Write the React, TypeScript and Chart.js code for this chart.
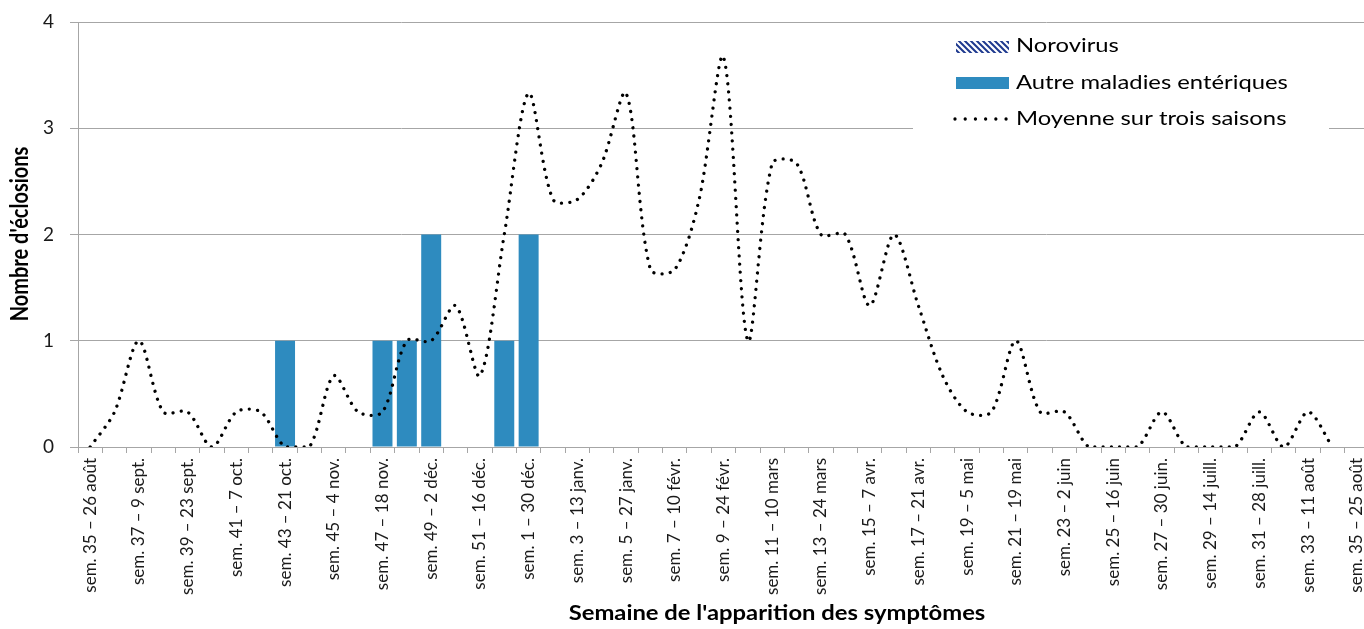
import React, { useEffect, useRef } from 'react';
import { Chart, registerables } from 'chart.js';

Chart.register(...registerables);

const weeks = [
  35, 36, 37, 38, 39, 40, 41, 42, 43, 44, 45, 46, 47, 48, 49, 50, 51, 52,
  1, 2, 3, 4, 5, 6, 7, 8, 9, 10, 11, 12, 13, 14, 15, 16, 17, 18, 19, 20,
  21, 22, 23, 24, 25, 26, 27, 28, 29, 30, 31, 32, 33, 34, 35,
];

const tickLabels = [
  'sem. 35 – 26 août', 'sem. 37 – 9 sept.', 'sem. 39 – 23 sept.', 'sem. 41 – 7 oct.',
  'sem. 43 – 21 oct.', 'sem. 45 – 4 nov.', 'sem. 47 – 18 nov.', 'sem. 49 – 2 déc.',
  'sem. 51 – 16 déc.', 'sem. 1 – 30 déc.', 'sem. 3 – 13 janv.', 'sem. 5 – 27 janv.',
  'sem. 7 – 10 févr.', 'sem. 9 – 24 févr.', 'sem. 11 – 10 mars', 'sem. 13 – 24 mars',
  'sem. 15 – 7 avr.', 'sem. 17 – 21 avr.', 'sem. 19 – 5 mai', 'sem. 21 – 19 mai',
  'sem. 23 – 2 juin', 'sem. 25 – 16 juin', 'sem. 27 – 30 juin.', 'sem. 29 – 14 juill.',
  'sem. 31 – 28 juill.', 'sem. 33 – 11 août', 'sem. 35 – 25 août',
];

const norovirus = [
  0, 0, 0, 0, 0, 0, 0, 0, 0, 0, 0, 0, 0, 0, 0, 0, 0, 0,
  0, 0, 0, 0, 0, 0, 0, 0, 0, 0, 0, 0, 0, 0, 0, 0, 0, 0, 0, 0,
  0, 0, 0, 0, 0, 0, 0, 0, 0, 0, 0, 0, 0, 0, 0,
];

const autresMaladies = [
  0, 0, 0, 0, 0, 0, 0, 0, 1, 0, 0, 0, 1, 1, 2, 0, 0, 1,
  2, 0, 0, 0, 0, 0, 0, 0, 0, 0, 0, 0, 0, 0, 0, 0, 0, 0, 0, 0,
  0, 0, 0, 0, 0, 0, 0, 0, 0, 0, 0, 0, 0, 0, 0,
];

const moyenne = [
  0, 0.33, 1, 0.33, 0.33, 0, 0.33, 0.33, 0, 0, 0.67, 0.33, 0.33, 1, 1, 1.33, 0.67, 2,
  3.33, 2.33, 2.33, 2.67, 3.33, 1.67, 1.67, 2.33, 3.67, 1, 2.67, 2.67, 2, 2, 1.33, 2, 1.33, 0.67, 0.33, 0.33,
  1, 0.33, 0.33, 0, 0, 0, 0.33, 0, 0, 0, 0.33, 0, 0.33, 0, null,
];

const seriesNames = ['Norovirus', 'Autre maladies entériques', 'Moyenne sur trois saisons'];
const yTitle = "Nombre d'éclosions";
const xTitle = "Semaine de l'apparition des symptômes";

const BLUE = '#2E8BBF';
const NAVY = '#1F3A8F';
const FONT = 'Lato, "Noto Sans", sans-serif';
const STRETCH = 1.19;

function makeHatch(): CanvasPattern | string {
  const c = document.createElement('canvas');
  c.width = 6;
  c.height = 6;
  const g = c.getContext('2d');
  if (!g) return NAVY;
  g.fillStyle = '#ffffff';
  g.fillRect(0, 0, 6, 6);
  g.strokeStyle = NAVY;
  g.lineWidth = 2;
  g.beginPath();
  g.moveTo(-1, -1);
  g.lineTo(7, 7);
  g.moveTo(-7, -1);
  g.lineTo(1, 7);
  g.moveTo(5, -1);
  g.lineTo(13, 7);
  g.stroke();
  const p = g.createPattern(c, 'repeat');
  return p || NAVY;
}

function stretchedText(ctx: CanvasRenderingContext2D, text: string, x: number, y: number, align: 'left' | 'center') {
  ctx.save();
  ctx.translate(x, y);
  ctx.scale(STRETCH, 1);
  ctx.textAlign = align;
  ctx.fillText(text, 0, 0);
  ctx.restore();
}

export default function App() {
  const ref = useRef<HTMLCanvasElement | null>(null);

  useEffect(() => {
    document.body.style.margin = '0';
    const canvas = ref.current;
    if (!canvas) return;
    const hatch = makeHatch();

    const overlay = {
      id: 'overlay',
      afterDatasetsDraw(chart: any) {
        const ctx = chart.ctx as CanvasRenderingContext2D;
        ctx.save();
        ctx.fillStyle = '#ffffff';
        ctx.fillRect(913, 27, 416, 117);
        ctx.fillStyle = hatch as any;
        ctx.fillRect(956, 41, 53, 12);
        ctx.fillStyle = BLUE;
        ctx.fillRect(956, 77, 53, 12);
        ctx.strokeStyle = '#000';
        ctx.lineWidth = 3.3;
        ctx.lineCap = 'round';
        ctx.setLineDash([0.01, 10.2]);
        ctx.beginPath();
        ctx.moveTo(955, 119);
        ctx.lineTo(1007, 119);
        ctx.stroke();
        ctx.setLineDash([]);
        ctx.fillStyle = '#000';
        ctx.font = `20px ${FONT}`;
        ctx.textBaseline = 'middle';
        stretchedText(ctx, seriesNames[0], 1016, 46, 'left');
        stretchedText(ctx, seriesNames[1], 1016, 83, 'left');
        stretchedText(ctx, seriesNames[2], 1016, 119, 'left');
        ctx.font = `bold 20px ${FONT}`;
        stretchedText(ctx, xTitle, 777, 614, 'center');
        ctx.translate(20, 234);
        ctx.rotate(-Math.PI / 2);
        ctx.scale(1, STRETCH);
        ctx.textAlign = 'center';
        ctx.fillText(yTitle, 0, 0);
        ctx.restore();
      },
    };

    const chart = new Chart(canvas, {
      type: 'bar',
      data: {
        labels: weeks.map((w) => String(w)),
        datasets: [
          {
            type: 'line',
            label: seriesNames[2],
            data: moyenne,
            borderColor: '#000',
            borderWidth: 3.3,
            borderDash: [0.01, 8.2],
            borderCapStyle: 'round',
            pointRadius: 0,
            tension: 0.3,
            fill: false,
            spanGaps: false,
            order: 0,
          } as any,
          {
            label: seriesNames[0],
            data: norovirus,
            backgroundColor: hatch as any,
            borderWidth: 0,
            barPercentage: 0.82,
            categoryPercentage: 1,
            grouped: false,
            order: 2,
          },
          {
            label: seriesNames[1],
            data: autresMaladies,
            backgroundColor: BLUE,
            borderWidth: 0,
            barPercentage: 0.82,
            categoryPercentage: 1,
            grouped: false,
            order: 1,
          },
        ],
      },
      options: {
        responsive: false,
        animation: false,
        devicePixelRatio: 1,
        layout: { padding: { top: 22, right: 0, bottom: 0, left: 0 } },
        plugins: {
          legend: { display: false },
          tooltip: { enabled: false },
        },
        scales: {
          x: {
            offset: true,
            grid: {
              offset: true,
              drawOnChartArea: false,
              drawTicks: true,
              tickLength: 6,
              color: '#a6a6a6',
            },
            border: { color: '#a6a6a6', width: 1 },
            ticks: {
              autoSkip: false,
              maxRotation: 90,
              minRotation: 90,
              padding: 5,
              color: '#1a1a1a',
              font: { family: FONT, size: 17 },
              callback: (_v: any, i: number) => (i % 2 === 0 ? tickLabels[i / 2] : ''),
            },
            afterFit: (scale: any) => {
              scale.height = 182;
              scale.paddingLeft = 0;
              scale.paddingRight = 0;
            },
          },
          y: {
            min: 0,
            max: 4,
            grid: { color: '#a6a6a6', tickLength: 8, lineWidth: 1 },
            border: { color: '#a6a6a6', width: 1 },
            ticks: {
              stepSize: 1,
              padding: 16,
              color: '#1a1a1a',
              font: { family: FONT, size: 19 },
            },
            afterFit: (scale: any) => {
              scale.width = 78;
              scale.paddingTop = 0;
              scale.paddingBottom = 0;
            },
          },
        },
      },
      plugins: [overlay],
    });

    return () => chart.destroy();
  }, []);

  return (
    <div style={{ width: 1364, height: 629, position: 'relative', overflow: 'hidden' }}>
      <canvas ref={ref} width={1369} height={629} style={{ display: 'block' }} />
    </div>
  );
}
